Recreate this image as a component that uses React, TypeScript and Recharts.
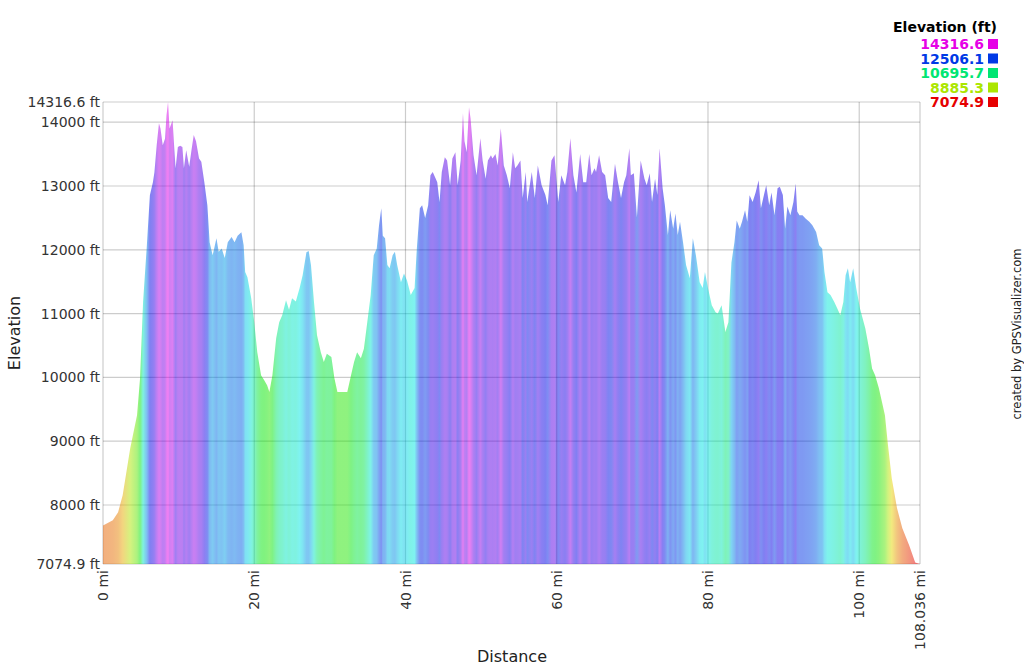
import { AreaChart, Area, XAxis, YAxis, CartesianGrid } from "recharts";

// distance along the track (mi) and elevation (ft)
const distances = [
  0, 1.3, 2.0, 2.6, 3.6, 4.5, 4.9, 5.3, 5.8, 6.2, 6.6, 6.8, 7.1, 7.4, 7.6, 7.9,
  8.2, 8.4, 8.6, 8.8, 9.2, 9.4, 9.6, 9.9, 10.2, 10.5, 10.7, 11.0, 11.4, 11.7,
  12.0, 12.3, 12.7, 13.0, 13.4, 13.8, 14.1, 14.5, 15.0, 15.3, 15.7, 16.1, 16.5,
  17.0, 17.4, 17.8, 18.3, 18.6, 18.8, 19.1, 19.6, 20.0, 20.4, 20.9, 21.3, 21.7,
  22.0, 22.4, 22.9, 23.3, 23.7, 24.2, 24.6, 25.0, 25.5, 26.0, 26.4, 26.9, 27.2,
  27.5, 27.9, 28.3, 28.8, 29.2, 29.6, 30.2, 30.6, 31.0, 31.6, 32.3, 32.8, 33.2,
  33.6, 34.1, 34.5, 34.9, 35.4, 35.8, 36.2, 36.5, 36.8, 37.0, 37.3, 37.6, 37.9,
  38.3, 38.6, 38.9, 39.4, 39.8, 40.2, 40.7, 41.2, 41.5, 41.9, 42.2, 42.6, 43.0,
  43.3, 43.6, 44.0, 44.2, 44.5, 44.8, 45.2, 45.5, 45.9, 46.2, 46.6, 46.9, 47.3,
  47.6, 47.8, 48.1, 48.4, 48.6, 49.0, 49.4, 49.9, 50.2, 50.6, 50.9, 51.3, 51.5,
  51.9, 52.2, 52.6, 53.0, 53.4, 53.8, 54.2, 54.5, 54.8, 55.2, 55.5, 55.9, 56.1,
  56.7, 57.1, 57.5, 58.0, 58.5, 58.8, 59.3, 59.7, 60.2, 60.6, 61.1, 61.4, 61.8,
  62.2, 62.6, 63.1, 63.5, 63.9, 64.3, 64.6, 65.0, 65.2, 65.6, 66.0, 66.4, 66.8,
  67.2, 67.7, 68.1, 68.5, 68.9, 69.2, 69.6, 69.8, 70.2, 70.6, 71.1, 71.6, 71.9,
  72.3, 72.6, 73.0, 73.3, 73.6, 74.0, 74.3, 74.7, 75.0, 75.4, 75.7, 76.0, 76.3,
  76.7, 77.1, 77.6, 78.0, 78.4, 78.9, 79.3, 79.6, 80.0, 80.5, 81.0, 81.3, 81.8,
  82.3, 82.7, 83.1, 83.5, 83.8, 84.2, 84.5, 84.9, 85.2, 85.5, 85.9, 86.3, 86.7,
  87.0, 87.4, 87.7, 88.1, 88.4, 88.8, 89.2, 89.5, 89.9, 90.2, 90.5, 90.9, 91.3,
  91.6, 91.8, 92.1, 92.5, 92.9, 93.4, 93.8, 94.3, 94.7, 95.1, 95.4, 95.8, 96.2,
  96.7, 97.1, 97.5, 97.9, 98.2, 98.5, 98.8, 99.2, 99.6, 100.1, 100.8, 101.3,
  101.7, 102.1, 102.6, 103.0, 103.4, 103.8, 104.3, 105.0, 105.7, 106.6, 107.4,
  108.036,
];

const elevations = [
  7680, 7762, 7887, 8154, 8890, 9408, 9987, 11180, 12072, 12856, 13060, 13217,
  13640, 13985, 13900, 13640, 13740, 14110, 14316.6, 13900, 14030, 13640, 13280,
  13610, 13630, 13610, 13280, 13560, 13300, 13560, 13800, 13700, 13430, 13380,
  13060, 12700, 12120, 11915, 12180, 11970, 12020, 11870, 12120, 12200, 12120,
  12220, 12276, 12070, 11650, 11570, 11240, 10865, 10395, 10035, 9960, 9878,
  9770, 10035, 10615, 10865, 10975, 11210, 11060, 11240, 11190, 11400, 11600,
  11960, 11980, 11760, 11180, 10660, 10395, 10240, 10370, 10320, 9987, 9770,
  9770, 9770, 10035, 10240, 10395, 10300, 10450, 10820, 11290, 11915, 12020,
  12385, 12650, 12220, 12180, 11760, 11710, 11915, 11970, 11760, 11490, 11630,
  11520, 11290, 11400, 12020, 12650, 12700, 12500, 12700, 13170, 13220, 13115,
  13060, 12746, 13220, 13450, 13400, 13010, 13430, 13530, 13010, 13400, 14140,
  13700, 13530, 14235, 14060, 13480, 13170, 13750, 13400, 13115, 13400, 13480,
  13430, 13500, 13320, 13905, 13320, 13170, 12965, 13530, 13280, 13320, 13400,
  12810, 13220, 12750, 13220, 12810, 13320, 13010, 12860, 12700, 13400, 13480,
  12750, 13170, 13010, 13220, 13750, 13170, 12900, 13500, 13060, 13060, 13500,
  13170, 13280, 13220, 13480, 13220, 13170, 12810, 12750, 13350, 13060, 12810,
  13060, 13170, 13590, 13170, 13200, 12510, 13400, 13115, 13010, 13200, 12750,
  13115, 12860, 13590, 12965, 12700, 12230, 12620, 12330, 12570, 12230, 12440,
  12120, 11760, 11555, 12180, 11915, 11490, 11400, 11650, 11400, 11130, 11020,
  11000, 11130, 10710, 10865, 11800, 12120, 12460, 12330, 12440, 12620, 12440,
  12856, 12750, 12900, 13090, 12650, 12860, 13010, 12700, 12900, 12540, 12965,
  12990, 12860, 12330, 12680, 12540, 12750, 13040, 12600, 12540, 12540, 12490,
  12440, 12385, 12280, 12072, 12020, 11650, 11335, 11290, 11180, 11080, 10975,
  11180, 11600, 11710, 11490, 11710, 11400, 11080, 10770, 10450, 10140, 10035,
  9830, 9620, 9408, 8940, 8420, 7950, 7636, 7370, 7100, 7074.9,
];

const xTicks = [0, 20, 40, 60, 80, 100, 108.036];
const yTicks = [7074.9, 8000, 9000, 10000, 11000, 12000, 13000, 14000, 14316.6];
const legendValues = [14316.6, 12506.1, 10695.7, 8885.3, 7074.9];

const MIN = 7074.9;
const MAX = 14316.6;
const MAX_DIST = 108.036;
const FONT = "'DejaVu Sans', Verdana, sans-serif";

const colorFor = (e: number) => {
  const hue = (300 * (e - MIN)) / (MAX - MIN);
  return `hsl(${hue.toFixed(1)}, 100%, 45%)`;
};

const data = distances.map((d, i) => ({ dist: d, elev: elevations[i] }));

const fmtMi = (v: number) => `${v} mi`;
const fmtFt = (v: number) => `${v} ft`;

function XTick(props: any) {
  const { x, y, payload } = props;
  return (
    <g transform={`translate(${x},${y})`}>
      <text
        transform="rotate(-90)"
        x={-4}
        y={0}
        dy="0.36em"
        textAnchor="end"
        fill="#333"
        fontSize={14}
        fontFamily={FONT}
      >
        {fmtMi(payload.value)}
      </text>
    </g>
  );
}

export default function App() {
  return (
    <div
      style={{
        position: "fixed",
        left: 0,
        top: 0,
        width: 1024,
        height: 666,
        background: "#fff",
      }}
    >
      <AreaChart
        width={1024}
        height={666}
        data={data}
        margin={{ top: 102, right: 104, left: 13, bottom: 12 }}
      >
        <defs>
          <linearGradient id="elevGrad" x1="0" y1="0" x2="1" y2="0">
            {data.map((p, i) => (
              <stop
                key={i}
                offset={`${((p.dist / MAX_DIST) * 100).toFixed(3)}%`}
                stopColor={colorFor(p.elev)}
              />
            ))}
          </linearGradient>
        </defs>
        <XAxis
          dataKey="dist"
          type="number"
          domain={[0, MAX_DIST]}
          ticks={xTicks}
          interval={0}
          height={90}
          axisLine={false}
          tickLine={false}
          tickSize={0}
          tick={<XTick />}
        />
        <YAxis
          type="number"
          domain={[MIN, MAX]}
          ticks={yTicks}
          interval={0}
          width={90}
          axisLine={false}
          tickLine={false}
          tickSize={0}
          tickFormatter={fmtFt}
          tick={{ fill: "#333", fontSize: 14, fontFamily: FONT }}
          tickMargin={3}
        />
        <Area
          dataKey="elev"
          type="linear"
          fill="url(#elevGrad)"
          fillOpacity={0.5}
          stroke="none"
          isAnimationActive={false}
        />
        <CartesianGrid stroke="rgba(0,0,0,0.2)" strokeWidth={1.2} />
      </AreaChart>
      <svg
        width={1024}
        height={666}
        style={{ position: "absolute", left: 0, top: 0, pointerEvents: "none" }}
        fontFamily={FONT}
      >
        <text x={997} y={32} textAnchor="end" fontSize={14} fontWeight="bold" fill="#000">
          Elevation (ft)
        </text>
        {legendValues.map((v, i) => (
          <g key={v}>
            <text
              x={984}
              y={49 + i * 14.5}
              textAnchor="end"
              fontSize={14}
              fontWeight="bold"
              fill={colorFor(v)}
            >
              {v.toFixed(1)}
            </text>
            <rect x={988} y={39 + i * 14.5} width={10} height={10} fill={colorFor(v)} />
          </g>
        ))}
        <text
          transform="translate(20,333) rotate(-90)"
          textAnchor="middle"
          fontSize={16}
          fill="#222"
        >
          Elevation
        </text>
        <text x={512} y={662} textAnchor="middle" fontSize={16} fill="#222">
          Distance
        </text>
        <text
          transform="translate(1021,334) rotate(-90)"
          textAnchor="middle"
          fontSize={11.5}
          fill="#222"
        >
          created by GPSVisualizer.com
        </text>
      </svg>
    </div>
  );
}
